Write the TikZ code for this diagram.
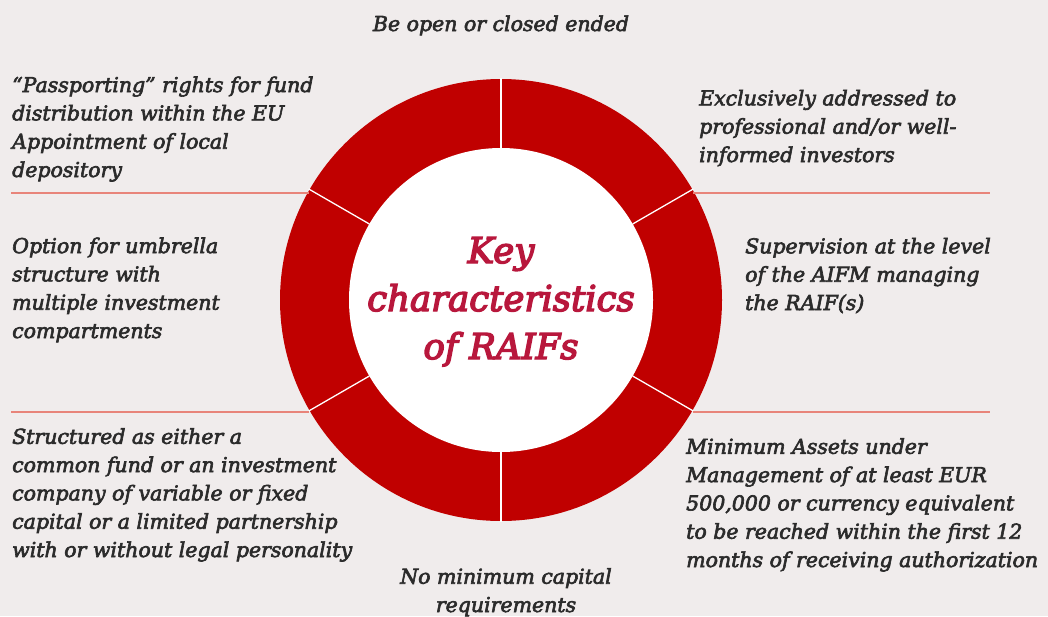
\documentclass[tikz,border=0pt]{standalone}
\usepackage{fontspec}
\usetikzlibrary{calc}
\setmainfont{DejaVu Serif}
\newfontfamily\itemfont{DejaVu Serif Italic}[FakeBold=3]
\newfontfamily\keyfont{DejaVu Serif Italic}[FakeBold=4]
\definecolor{bgc}{HTML}{F0ECEC}
\definecolor{ringred}{HTML}{C00000}
\definecolor{keyred}{HTML}{B8173C}
\definecolor{txt}{HTML}{2B2B2B}
\definecolor{pinkline}{HTML}{E8847A}
\tikzset{
  item/.style={inner sep=0pt, align=left, text=txt, font=\fontsize{20.5}{28.3}\selectfont\itemfont},
  itemc/.style={item, align=center},
  sep/.style={draw=white, line width=1.3pt},
  rule/.style={draw=pinkline, line width=1.6pt},
}
\begin{document}
\begin{tikzpicture}[x=1pt,y=-1pt]
\fill[bgc] (0,0) rectangle (1048,616);
\useasboundingbox (0,0) rectangle (1048,616);
\coordinate (c) at (501,300);
\fill[ringred] (c) circle[radius=221];
\fill[white] (c) circle[radius=152];
\foreach \a in {30,90,150,210,270,330}
  \draw[sep] ($(c)+(\a:152)$) -- ($(c)+(\a:222)$);
\coordinate (ul1) at (11,193); \coordinate (ul2) at (309,193);
\coordinate (ur1) at (693,193); \coordinate (ur2) at (990,193);
\coordinate (ll1) at (11,412); \coordinate (ll2) at (309,412);
\coordinate (lr1) at (693,412); \coordinate (lr2) at (990,412);
\draw[rule] (ul1) -- (ul2);
\draw[rule] (ur1) -- (ur2);
\draw[rule] (ll1) -- (ll2);
\draw[rule] (lr1) -- (lr2);
\node[inner sep=0pt, align=center, text=keyred, font=\fontsize{35.5}{48}\selectfont\keyfont, anchor=base] (key) at (501,359) {Key\\characteristics\\of RAIFs};
\node[itemc, anchor=base] (top) at (501,31) {Be open or closed ended};
\node[item, anchor=base west] (pass) at (12,177) {“Passporting” rights for fund\\distribution within the EU\\Appointment of local\\depository};
\node[item, anchor=base west] (excl) at (699,162) {Exclusively addressed to\\professional and/or well-\\informed investors};
\node[item, anchor=base west] (opt) at (12,338) {Option for umbrella\\structure with\\multiple investment\\compartments};
\node[item, anchor=base west] (sup) at (745,310) {Supervision at the level\\of the AIFM managing\\the RAIF(s)};
\node[item, anchor=base west] (str) at (12,557) {Structured as either a\\common fund or an investment\\company of variable or fixed\\capital or a limited partnership\\with or without legal personality};
\node[item, anchor=base west] (min) at (686,567) {Minimum Assets under\\Management of at least EUR\\500,000 or currency equivalent\\to be reached within the first 12\\months of receiving authorization};
\node[itemc, anchor=base] (nomin) at (506,612) {No minimum capital\\requirements};
\end{tikzpicture}
\end{document}
